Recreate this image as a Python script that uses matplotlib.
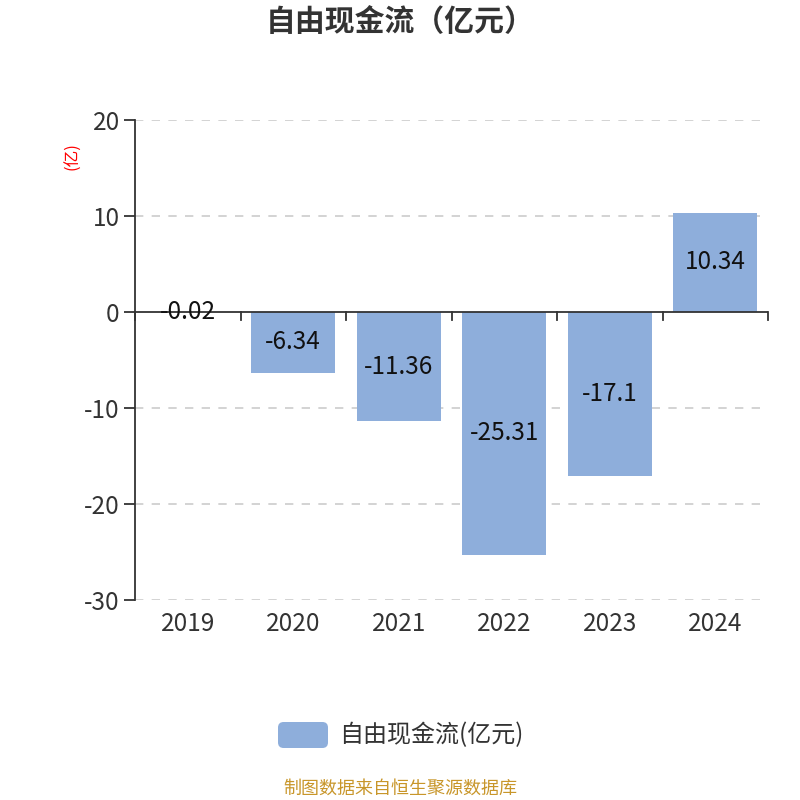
import matplotlib.pyplot as plt
from matplotlib.patches import FancyBboxPatch

plt.rcParams['font.family'] = ['Noto Sans CJK SC', 'DejaVu Sans']

years = ['2019', '2020', '2021', '2022', '2023', '2024']
values = [-0.02, -6.34, -11.36, -25.31, -17.1, 10.34]
labels = ['-0.02', '-6.34', '-11.36', '-25.31', '-17.1', '10.34']

bar_color = '#8eaedb'
text_color = '#333333'

fig = plt.figure(figsize=(8, 8), dpi=100)
ax = fig.add_axes([0.16875, 0.25, 0.79125, 0.6])

x = list(range(len(years)))
ax.bar(x, values, width=0.8, color=bar_color, zorder=2)
for xi, v, lab in zip(x, values, labels):
    ax.text(xi, v / 2, lab, ha='center', va='center', fontsize=17.5,
            color='#111111', zorder=6)

ax.set_xlim(-0.5, len(years) - 0.5)
ax.set_ylim(-30, 20)
ax.set_yticks([-30, -20, -10, 0, 10, 20])
ax.set_yticklabels(['-30', '-20', '-10', '0', '10', '20'])
ax.tick_params(axis='y', length=8, width=1.3, color=text_color,
               labelsize=17.5, labelcolor=text_color, pad=3)
for yv in [-30, -20, -10, 10, 20]:
    ax.axhline(yv, color='#cccccc', linestyle=(0, (5, 5)), linewidth=1.2, zorder=1)

# x axis drawn at zero
ax.axhline(0, color=text_color, linewidth=1.3, zorder=4)
for b in [i - 0.5 for i in range(len(years) + 1)]:
    ax.plot([b, b], [0, -0.85], color=text_color, linewidth=1.3, zorder=4,
            clip_on=False)
ax.set_xticks(x)
ax.set_xticklabels(years)
ax.tick_params(axis='x', length=0, labelsize=17.5, labelcolor=text_color, pad=8)

for s in ['top', 'right', 'bottom']:
    ax.spines[s].set_visible(False)
ax.spines['left'].set_color(text_color)
ax.spines['left'].set_linewidth(1.3)

fig.text(0.091, 0.805, '(亿)', rotation=90, color='red', fontsize=12,
         ha='center', va='center')

fig.text(0.5, 0.9725, '自由现金流（亿元）', ha='center', va='center',
         fontsize=21.5, fontweight='bold', color=text_color)

# legend
fig.patches.append(FancyBboxPatch((0.3475, 0.065), 0.0625, 0.0325,
                                  boxstyle='round,pad=0,rounding_size=0.007',
                                  transform=fig.transFigure, facecolor=bar_color,
                                  edgecolor='none'))
fig.text(0.424, 0.0815, '自由现金流(亿元)', ha='left', va='center',
         fontsize=17.3, color=text_color)

fig.text(0.5, 0.014, '制图数据来自恒生聚源数据库', ha='center', va='center',
         fontsize=13, color='#c8962a')

fig.savefig('out.png', dpi=100)
